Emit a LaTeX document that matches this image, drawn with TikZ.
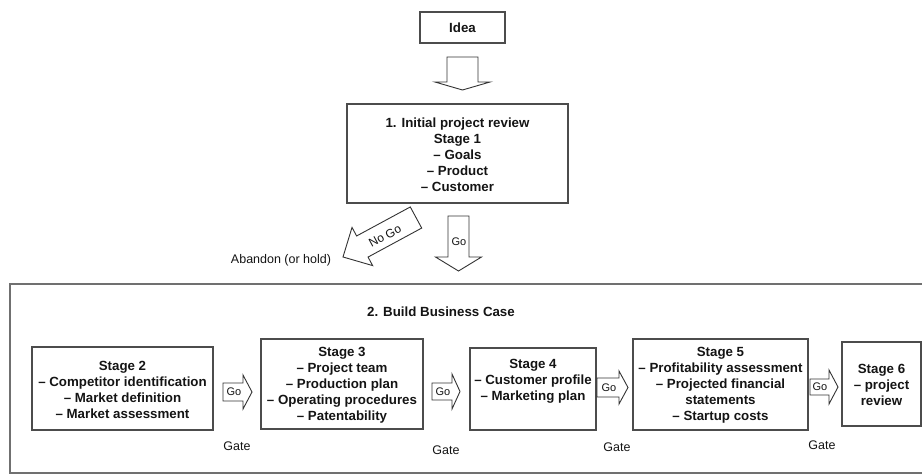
\documentclass[tikz,border=0pt]{standalone}
\usepackage{fontspec}
\setmainfont{Liberation Sans}
\definecolor{boxc}{gray}{0.3}
\definecolor{txt}{gray}{0.08}
\definecolor{arc}{gray}{0.2}
\newcommand{\hollowarrow}[7]{%
  \draw[har, shift={(#1)}, rotate=#2] (0,-#4) -- (#3,-#4) -- (#3,-#6) -- ({#3+#5},0) -- (#3,#6) -- (#3,#4) -- (0,#4) -- cycle;}
\begin{document}
\begin{tikzpicture}[x=1pt,y=-1pt,
  box/.style={draw=boxc, line width=1.1pt, inner sep=0pt},
  bt/.style={font=\bfseries\fontsize{13.3}{16}\selectfont, align=center, text=txt, inner sep=0pt},
  rt/.style={font=\fontsize{12.5}{14}\selectfont, text=txt, inner sep=0pt},
  gt/.style={font=\fontsize{11}{13}\selectfont, text=txt, inner sep=0pt},
  har/.style={draw=arc, line width=0.9pt, fill=white, line join=miter}]
\useasboundingbox (0,0) rectangle (922,475);

% outer frame
\node[draw=boxc!80, line width=1.1pt, inner sep=0pt, minimum width=914pt, minimum height=189pt] (outer) at (467,378.5) {};

% boxes
\node[box, minimum width=85pt, minimum height=31pt, bt] (idea) at (462.5,27.5) {Idea};
\node[box, minimum width=221pt, minimum height=99pt] (s1) at (457.5,153.5) {};
\node[bt] (s1t) at (457.5,155) {1. Initial project review\\Stage 1\\– Goals\\– Product\\– Customer};

\node[box, minimum width=181pt, minimum height=83pt] (s2) at (122.5,388.5) {};
\node[bt] (s2t) at (122.5,389.5) {Stage 2\\– Competitor identification\\– Market definition\\– Market assessment};

\node[box, minimum width=162pt, minimum height=90pt] (s3) at (342,384) {};
\node[bt] (s3t) at (342,385) {Stage 3\\– Project team\\– Production plan\\– Operating procedures\\– Patentability};

\node[box, minimum width=126pt, minimum height=82pt] (s4) at (533,389) {};
\node[bt] (s4t) at (533,381) {Stage 4\\– Customer profile\\– Marketing plan};

\node[box, minimum width=175pt, minimum height=91pt] (s5) at (720.5,384.5) {};
\node[bt] (s5t) at (720.5,385) {Stage 5\\– Profitability assessment\\– Projected financial\\statements\\– Startup costs};

\node[box, minimum width=79pt, minimum height=84pt] (s6) at (881.5,384) {};
\node[bt] (s6t) at (881.5,384.5) {Stage 6\\– project\\review};

% titles and labels
\node[bt] (bbc) at (441,312) {2. Build Business Case};
\node[rt] (aban) at (281,260) {Abandon (or hold)};

% arrow tails
\coordinate (a0) at (462.5,57);
\coordinate (ago) at (458.5,216);
\coordinate (anogo) at (416,217.5);
\coordinate (ga1) at (223,392);
\coordinate (ga2) at (432,391.5);
\coordinate (ga3) at (597,387.5);
\coordinate (ga4) at (810,387);

% hollow arrows: tail, angle, shaft length, shaft half-width, head length, head half-width
\hollowarrow{a0}{-90}{25}{15.5}{8}{27.5}{}
\hollowarrow{ago}{-90}{41}{10.5}{14}{23}{}
\hollowarrow{anogo}{208.4}{61}{12}{22}{21.7}{}
\hollowarrow{ga1}{0}{20}{9}{9}{17}{}
\hollowarrow{ga2}{0}{20}{8.5}{8}{17.5}{}
\hollowarrow{ga3}{0}{22}{9.5}{9}{16.5}{}
\hollowarrow{ga4}{0}{19}{8}{9}{17}{}

% arrow texts
\node[gt] (gotxt) at (459,242) {Go};
\node[gt, rotate=28.4, font=\fontsize{12}{14}\selectfont] (nogotxt) at (385,236) {No Go};
\node[gt] (go1) at (234,392) {Go};
\node[gt] (go2) at (443,391.5) {Go};
\node[gt] (go3) at (609,387.5) {Go};
\node[gt] (go4) at (820,387) {Go};

% gate labels
\node[rt] (gate1) at (237,446) {Gate};
\node[rt] (gate2) at (446,450) {Gate};
\node[rt] (gate3) at (617,447) {Gate};
\node[rt] (gate4) at (822,445) {Gate};
\end{tikzpicture}
\end{document}
